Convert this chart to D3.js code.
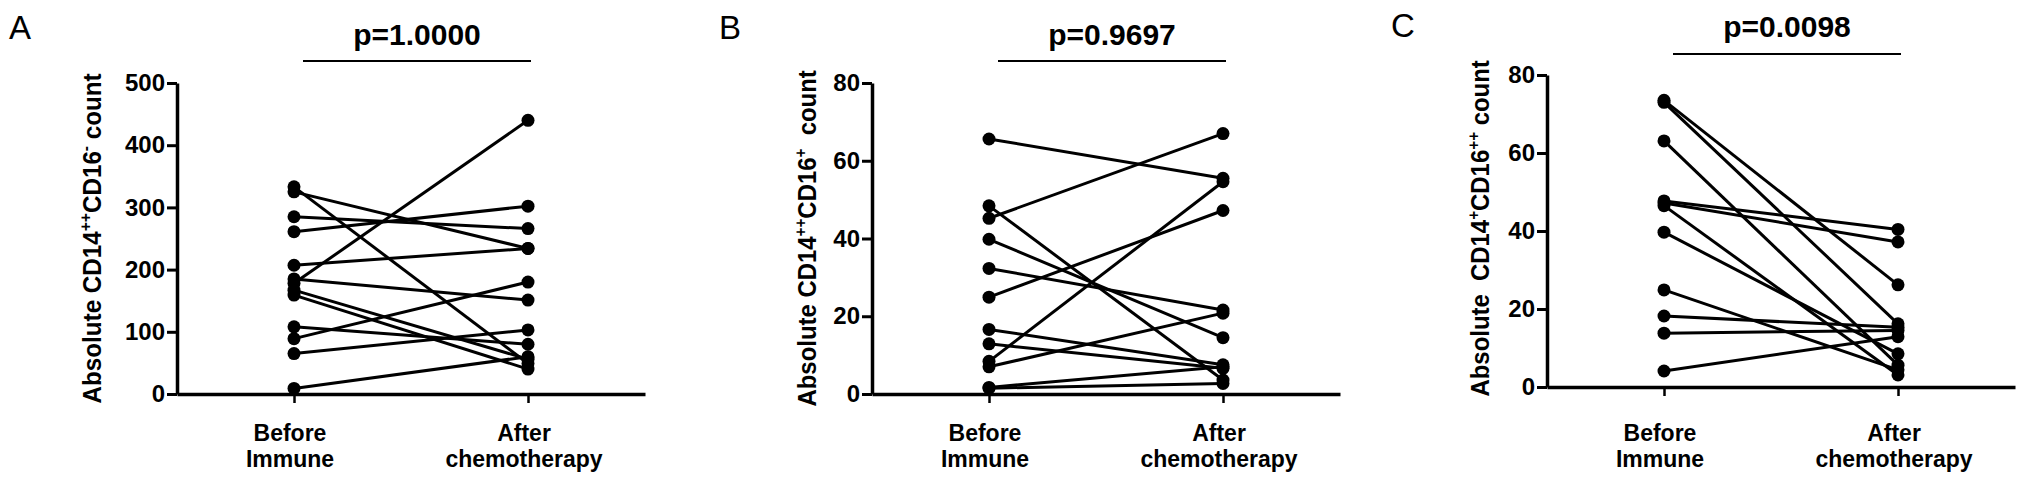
<!DOCTYPE html>
<html>
<head>
<meta charset="utf-8">
<script src="https://cdn.jsdelivr.net/npm/d3@7"></script>
<style>
  html, body { margin: 0; padding: 0; background: #fff; }
  svg { display: block; }
  text { font-family: "Liberation Sans", Arial, sans-serif; fill: #000; }
</style>
</head>
<body>
<svg id="chart" width="2031" height="498"></svg>
<script>
// ---------------- DATA ----------------
const categories = ["Before", "After"];
const categoryLines = [["Before", "Immune"], ["After", "chemotherapy"]];
const panelLetters = ["A", "B", "C"];
const pValues = ["p=1.0000", "p=0.9697", "p=0.0098"];

const yTicksA = [0, 100, 200, 300, 400, 500];
const yTicksB = [0, 20, 40, 60, 80];
const yTicksC = [0, 20, 40, 60, 80];

// Panel A: Absolute CD14++CD16- count (paired values)
const beforeA = [333, 325, 285, 261, 207, 185, 178, 167, 159, 108, 89, 65, 9];
const afterA  = [49, 234, 266, 302, 234, 151, 440, 56, 40, 80, 180, 103, 60];

// Panel B: Absolute CD14++CD16+ count
const beforeB = [65.6, 48.4, 45.2, 39.8, 32.3, 24.9, 16.6, 12.9, 8.4, 7.0, 1.7, 1.5];
const afterB  = [55.5, 3.6, 67.0, 14.5, 21.6, 47.2, 7.5, 6.6, 54.6, 20.8, 7.0, 2.7];

// Panel C: Absolute CD14+CD16++ count
const beforeC = [73.5, 73.0, 63.1, 47.7, 47.2, 46.5, 39.7, 24.9, 18.2, 13.8, 4.1];
const afterC  = [26.2, 16.2, 5.6, 40.4, 37.2, 3.1, 8.5, 4.4, 15.3, 14.5, 12.9];

// Y-axis labels: [text, isSuperscript]
const yLabelA = [["Absolute CD14", false], ["++", true], ["CD16", false], ["-", true], [" count", false]];
const yLabelB = [["Absolute CD14", false], ["++", true], ["CD16", false], ["+", true], ["  count", false]];
const yLabelC = [["Absolute  CD14", false], ["+", true], ["CD16", false], ["++", true], [" count", false]];

// ---------------- LAYOUT ----------------
const panels = [
  { letter: panelLetters[0], p: pValues[0], ticks: yTicksA, before: beforeA, after: afterA, ylab: yLabelA,
    x0: 177, x1: 645, yb: 394, yt: 83, letterX: 9, letterY: 39, pY: 45, lineY: 61, ylabX: 92, ylabY: 238, ylabLen: 331 },
  { letter: panelLetters[1], p: pValues[1], ticks: yTicksB, before: beforeB, after: afterB, ylab: yLabelB,
    x0: 872, x1: 1340, yb: 394, yt: 83, letterX: 719, letterY: 39, pY: 45, lineY: 61, ylabX: 807, ylabY: 238, ylabLen: 337 },
  { letter: panelLetters[2], p: pValues[2], ticks: yTicksC, before: beforeC, after: afterC, ylab: yLabelC,
    x0: 1547, x1: 2015, yb: 387, yt: 75, letterX: 1391, letterY: 37, pY: 37, lineY: 54, ylabX: 1480, ylabY: 228, ylabLen: 337 }
];

const svg = d3.select("#chart");

panels.forEach(pn => {
  const g = svg.append("g");
  const x = d3.scalePoint().domain(categories).range([pn.x0, pn.x1]).padding(0.5);
  const y = d3.scaleLinear().domain([d3.min(pn.ticks), d3.max(pn.ticks)]).range([pn.yb, pn.yt]);

  // X axis
  const xa = g.append("g").attr("transform", `translate(0,${pn.yb})`)
    .call(d3.axisBottom(x).tickSize(9).tickSizeOuter(0).tickFormat(""));
  xa.select(".domain").attr("stroke-width", 3.5);
  xa.selectAll(".tick line").attr("stroke-width", 2.5);

  // Y axis
  const ya = g.append("g").attr("transform", `translate(${pn.x0},0)`)
    .call(d3.axisLeft(y).tickValues(pn.ticks).tickSize(10).tickSizeOuter(0).tickPadding(2));
  ya.select(".domain").attr("stroke-width", 3.5);
  ya.selectAll(".tick line").attr("stroke-width", 3);
  ya.selectAll(".tick text")
    .attr("font-family", "Liberation Sans, Arial, sans-serif")
    .attr("font-size", 24).attr("font-weight", "bold").attr("fill", "#000");

  // Category labels
  categories.forEach((c, i) => {
    const t = g.append("text").attr("text-anchor", "middle")
      .attr("font-size", 23).attr("font-weight", "bold");
    categoryLines[i].forEach((ln, j) => {
      t.append("tspan").attr("x", x(c) - 4).attr("y", 441 + j * 26).text(ln);
    });
  });

  // Paired lines
  const pairs = pn.before.map((b, i) => ({ b, a: pn.after[i] }));
  g.append("g").selectAll("line").data(pairs).join("line")
    .attr("x1", x(categories[0])).attr("y1", d => y(d.b))
    .attr("x2", x(categories[1])).attr("y2", d => y(d.a))
    .attr("stroke", "#000").attr("stroke-width", 3);

  // Dots
  const dots = g.append("g");
  dots.selectAll("circle.b").data(pn.before).join("circle").attr("class", "b")
    .attr("cx", x(categories[0])).attr("cy", d => y(d)).attr("r", 6.5).attr("fill", "#000");
  dots.selectAll("circle.a").data(pn.after).join("circle").attr("class", "a")
    .attr("cx", x(categories[1])).attr("cy", d => y(d)).attr("r", 6.5).attr("fill", "#000");

  // Y label (rotated, stretched along its length to match the reference span)
  const ylg = g.append("g");
  const yl = ylg.append("text")
    .attr("font-size", 25).attr("font-weight", "bold")
    .style("white-space", "pre");
  let raised = false;
  pn.ylab.forEach(part => {
    const ts = yl.append("tspan").text(part[0]);
    if (part[1]) {
      ts.attr("font-size", 16);
      if (!raised) ts.attr("dy", -10);
      raised = true;
    } else if (raised) {
      ts.attr("dy", 10);
      raised = false;
    }
  });
  const bb = yl.node().getBBox();
  const w = bb.width > 0 ? bb.width : pn.ylabLen;
  const sx = pn.ylabLen / w;
  ylg.attr("transform",
    `translate(${pn.ylabX + 9},${pn.ylabY}) rotate(-90) scale(${sx},1) translate(${-(bb.x + w / 2)},0)`);

  // Significance bar + p-value
  const xb = x(categories[0]) + 9, xe = x(categories[1]) + 3;
  g.append("line").attr("x1", xb).attr("x2", xe).attr("y1", pn.lineY).attr("y2", pn.lineY)
    .attr("stroke", "#000").attr("stroke-width", 2);
  g.append("text").attr("x", (xb + xe) / 2).attr("y", pn.pY).attr("text-anchor", "middle")
    .attr("font-size", 30).attr("font-weight", "bold").text(pn.p);

  // Panel letter
  g.append("text").attr("x", pn.letterX).attr("y", pn.letterY)
    .attr("font-family", "Open Sans, sans-serif").attr("font-size", 33).attr("font-weight", 400)
    .text(pn.letter);
});
</script>
</body>
</html>
